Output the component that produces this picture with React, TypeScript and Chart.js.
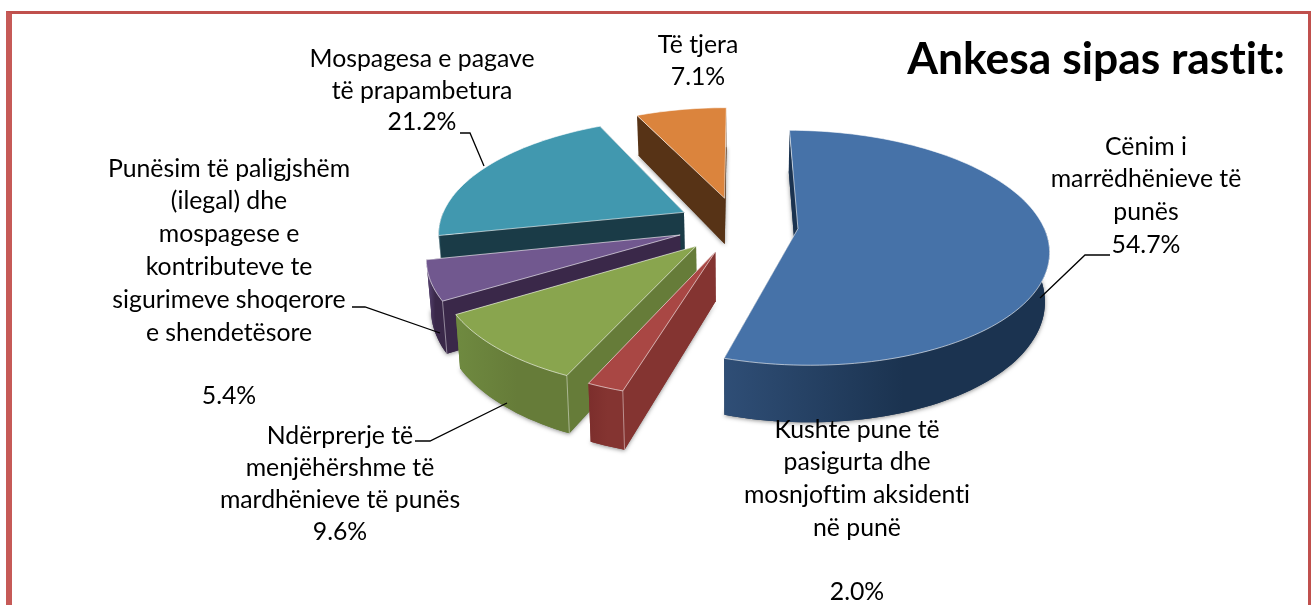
import React, { useEffect, useRef } from "react";
import { Chart, registerables } from "chart.js";

Chart.register(...registerables);

const categories = [
  "Cënim i marrëdhënieve të punës",
  "Kushte pune të pasigurta dhe mosnjoftim aksidenti në punë",
  "Ndërprerje të menjëhërshme të mardhënieve të punës",
  "Punësim të paligjshëm (ilegal) dhe mospagese e kontributeve te sigurimeve shoqerore e shendetësore",
  "Mospagesa e pagave të prapambetura",
  "Të tjera",
];
const values = [54.7, 2.0, 9.6, 5.4, 21.2, 7.1];
const topColors = ["#4672a8", "#a94744", "#89a54e", "#71588f", "#4198af", "#db843d"];
const wallColors = ["#1b3350", "#843431", "#667c39", "#3a2849", "#1a3b47", "#573316"];
const rimColors = ["#2f4e76", "#7c2e2c", "#6f8a40", "#5f4a7c", "#21505f", "#6b3f1c"];
const title = "Ankesa sipas rastit:";

const labelBlocks = [
  { cx: 1146, lines: [["Cënim i", 147], ["marrëdhënieve të", 179], ["punës", 212], ["54.7%", 245]] },
  { cx: 857, lines: [["Kushte pune të", 430], ["pasigurta dhe", 462], ["mosnjoftim aksidenti", 495], ["në punë", 528], ["2.0%", 592]] },
  { cx: 340, lines: [["Ndërprerje të", 436], ["menjëhërshme të", 468], ["mardhënieve të punës", 500], ["9.6%", 532]] },
  { cx: 229, lines: [["Punësim të paligjshëm", 169], ["(ilegal) dhe", 201], ["mospagese e", 234], ["kontributeve te", 267], ["sigurimeve shoqerore", 300], ["e shendetësore", 333], ["5.4%", 396]] },
  { cx: 422, lines: [["Mospagesa e pagave", 59], ["të prapambetura", 91], ["21.2%", 122]] },
  { cx: 698, lines: [["Të tjera", 45], ["7.1%", 77]] },
];
const leaders = [
  [[1040, 298], [1085, 255], [1110, 255]],
  [[507, 403], [430, 441], [415, 441]],
  [[440, 333], [365, 307], [352, 307]],
  [[484, 166], [470, 133], [460, 133]],
];

// projection of the pie plane on the page
const CX = 737.5, CY = 224.5, RX = 245, RY = 113, PERSP = 0.162, DEPTH = 47.5, BOTTOM = 0.985;
const EXPLODE_PX = 63, PLANE = 254;
const FONT = "Lato, 'Open Sans', sans-serif";

type P = [number, number];
const project = (X: number, Y: number, low = false): P => {
  const w = 1 / (1 - PERSP * Y);
  const x = CX + RX * X * w;
  const y = CY + RY * Y * w;
  return low ? [CX + (x - CX) * BOTTOM, y + DEPTH * w] : [x, y];
};

const trace = (ctx: CanvasRenderingContext2D, pts: P[]) => {
  ctx.beginPath();
  pts.forEach((p, i) => (i ? ctx.lineTo(p[0], p[1]) : ctx.moveTo(p[0], p[1])));
  ctx.closePath();
};

const pie3d = {
  id: "pie3d",
  beforeDatasetsDraw(chart: any) {
    const ctx: CanvasRenderingContext2D = chart.ctx;
    const arcs = chart.getDatasetMeta(0).data;
    const order = [5, 4, 3, 2, 1, 0];
    ctx.save();
    for (const i of order) {
      const el = arcs[i];
      const a0 = el.startAngle, a1 = el.endAngle, mid = (a0 + a1) / 2;
      const e = (el.options.offset || 0) / PLANE;
      const ox = Math.cos(mid) * e, oy = Math.sin(mid) * e;
      const n = Math.max(2, Math.ceil((a1 - a0) / 0.03));
      const angles: number[] = [];
      for (let k = 0; k <= n; k++) angles.push(a0 + ((a1 - a0) * k) / n);
      const rim = (t: number, low = false) => project(Math.cos(t) + ox, Math.sin(t) + oy, low);
      const apex = project(ox, oy), apexLow = project(ox, oy, true);
      const top: P[] = [apex, ...angles.map((t) => rim(t))];
      const bottom: P[] = [apexLow, ...angles.map((t) => rim(t, true))];

      // soft shadow below the slice
      ctx.save();
      ctx.shadowColor = "rgba(0,0,0,0.45)";
      ctx.shadowBlur = 4;
      ctx.shadowOffsetY = 1;
      ctx.fillStyle = wallColors[i];
      trace(ctx, bottom);
      ctx.fill();
      ctx.restore();

      // radial walls, the one turned away first
      const walls = [
        { t: a0, facing: -Math.cos(a0) },
        { t: a1, facing: Math.cos(a1) },
      ].sort((p, q) => p.facing - q.facing);
      for (const w of walls) {
        ctx.fillStyle = wallColors[i];
        trace(ctx, [apex, rim(w.t), rim(w.t, true), apexLow]);
        ctx.fill();
      }

      // rim wall
      const vis = angles.filter((t) => Math.sin(t) > -0.02);
      if (vis.length > 1) {
        const xs = vis.map((t) => rim(t)[0]);
        const g = ctx.createLinearGradient(Math.min(...xs), 0, Math.max(...xs), 0);
        g.addColorStop(0, rimColors[i]);
        g.addColorStop(0.55, wallColors[i]);
        g.addColorStop(1, wallColors[i]);
        ctx.fillStyle = g;
        trace(ctx, [...vis.map((t) => rim(t)), ...vis.slice().reverse().map((t) => rim(t, true))]);
        ctx.fill();
      }

      // light corner edges on the walls
      ctx.strokeStyle = "rgba(255,255,255,0.45)";
      ctx.lineWidth = 1;
      for (const w of walls) {
        if (w.facing > 0 && Math.sin(w.t) > 0) {
          const p = rim(w.t), q = rim(w.t, true);
          ctx.beginPath();
          ctx.moveTo(p[0], p[1]);
          ctx.lineTo(q[0], q[1]);
          ctx.stroke();
        }
      }

      // top face
      ctx.fillStyle = topColors[i];
      trace(ctx, top);
      ctx.fill();
      ctx.strokeStyle = "rgba(255,255,255,0.6)";
      ctx.lineWidth = 1;
      ctx.stroke();
    }
    ctx.restore();
    return false;
  },
  afterDraw(chart: any) {
    const ctx: CanvasRenderingContext2D = chart.ctx;
    ctx.save();
    ctx.strokeStyle = "#000";
    ctx.lineWidth = 1.3;
    for (const l of leaders) {
      ctx.beginPath();
      l.forEach((p, i) => (i ? ctx.lineTo(p[0], p[1]) : ctx.moveTo(p[0], p[1])));
      ctx.stroke();
    }
    (ctx as any).textRendering = "optimizeSpeed";
    ctx.fillStyle = "#000";
    ctx.textAlign = "center";
    ctx.textBaseline = "middle";
    ctx.font = `24.8px ${FONT}`;
    for (const b of labelBlocks) {
      for (const [text, y] of b.lines) ctx.fillText(text as string, b.cx, y as number);
    }
    ctx.font = `bold 44.4px ${FONT}`;
    ctx.textAlign = "right";
    ctx.fillText(title, 1285, 60);
    ctx.restore();
  },
};

export default function App() {
  const ref = useRef<HTMLCanvasElement>(null);
  useEffect(() => {
    const chart = new Chart(ref.current!, {
      type: "pie",
      data: {
        labels: categories,
        datasets: [{ data: values, backgroundColor: topColors, offset: EXPLODE_PX, borderWidth: 0 }],
      },
      options: {
        responsive: false,
        animation: false,
        rotation: 0,
        plugins: { legend: { display: false }, tooltip: { enabled: false } },
      },
      plugins: [pie3d],
    } as any);
    return () => chart.destroy();
  }, []);
  return (
    <div style={{ position: "fixed", inset: 0, background: "#fff", overflow: "hidden" }}>
      <canvas ref={ref} width={1311} height={605} style={{ position: "absolute", left: 0, top: 0 }} />
      <div
        style={{
          position: "absolute",
          left: 6,
          top: 11,
          width: 1302 - 6,
          height: 620,
          boxSizing: "content-box",
          borderLeft: "6px solid #c65a57",
          borderTop: "3px solid #c0504d",
          borderRight: "3px solid #c0504d",
          pointerEvents: "none",
        }}
      />
    </div>
  );
}
